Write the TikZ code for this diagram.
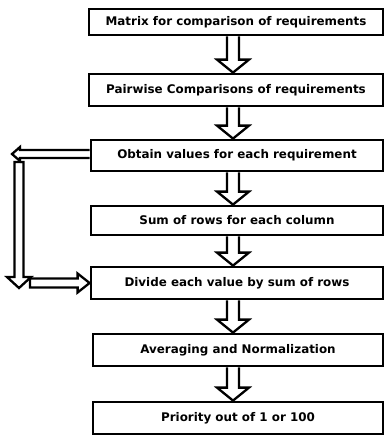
\documentclass[tikz,border=0pt]{standalone}
\usepackage{fontspec}
\setmainfont{DejaVu Sans}
\usetikzlibrary{calc}
\begin{document}
\begin{tikzpicture}[x=1pt,y=-1pt,
  stepbox/.style={draw,line width=2.8pt,inner sep=0pt,font=\bfseries\fontsize{11.9}{14}\selectfont},
  hol/.style={draw,line width=2.3pt,line join=miter}]
\useasboundingbox (0,0) rectangle (386,437);
\newcommand\mkbox[6]{\node[stepbox,minimum width={#4-#3},minimum height={#6-#5}] (#1) at ({(#3+#4)/2},{(#5+#6)/2}) {#2};}
\mkbox{b1}{Matrix for comparison of requirements}{89}{383}{9}{35}
\mkbox{b2}{Pairwise Comparisons of requirements}{89}{383}{74}{106}
\mkbox{b3}{Obtain values for each requirement}{91}{383}{140}{171}
\mkbox{b4}{Sum of rows for each column}{91}{383}{206}{235}
\mkbox{b5}{Divide each value by sum of rows}{91}{383}{267}{299}
\mkbox{b6}{Averaging and Normalization}{93}{383}{334}{366}
\mkbox{b7}{Priority out of 1 or 100}{93}{383}{402}{434}
\coordinate (ax) at (233,0);
\newcommand\hdown[2]{\draw[hol] ($(#1.south -| ax)+(-6,0)$) -- ($(#2.north -| ax)+(-6,-13)$) -- ($(#2.north -| ax)+(-16,-13)$) -- (#2.north -| ax) -- ($(#2.north -| ax)+(16,-13)$) -- ($(#2.north -| ax)+(6,-13)$) -- ($(#1.south -| ax)+(6,0)$);}
\hdown{b1}{b2}
\hdown{b2}{b3}
\hdown{b3}{b4}
\hdown{b4}{b5}
\hdown{b5}{b6}
\hdown{b6}{b7}
% feedback loop
\coordinate (ltip) at (12,154);
\coordinate (vtop) at (19,162);
\coordinate (vtip) at (19,288);
\coordinate (rtail) at (30,283);
\draw[hol] ($(b3.west |- ltip)+(0,-4)$) -- ($(ltip)+(8,-4)$) -- ($(ltip)+(8,-7)$) -- (ltip) -- ($(ltip)+(8,7)$) -- ($(ltip)+(8,4)$) -- ($(b3.west |- ltip)+(0,4)$);
\draw[hol] ($(vtop)+(-4.5,0)$) -- ($(vtip)+(-4.5,-11)$) -- ($(vtip)+(-12,-11)$) -- (vtip) -- ($(vtip)+(12,-11)$) -- ($(vtip)+(4.5,-11)$) -- ($(vtop)+(4.5,0)$) -- cycle;
\draw[hol] ($(rtail)+(0,-4.5)$) -- ($(b5.west)+(-12,-4.5)$) -- ($(b5.west)+(-12,-9.5)$) -- (b5.west) -- ($(b5.west)+(-12,9.5)$) -- ($(b5.west)+(-12,4.5)$) -- ($(rtail)+(0,4.5)$) -- cycle;
\end{tikzpicture}
\end{document}
